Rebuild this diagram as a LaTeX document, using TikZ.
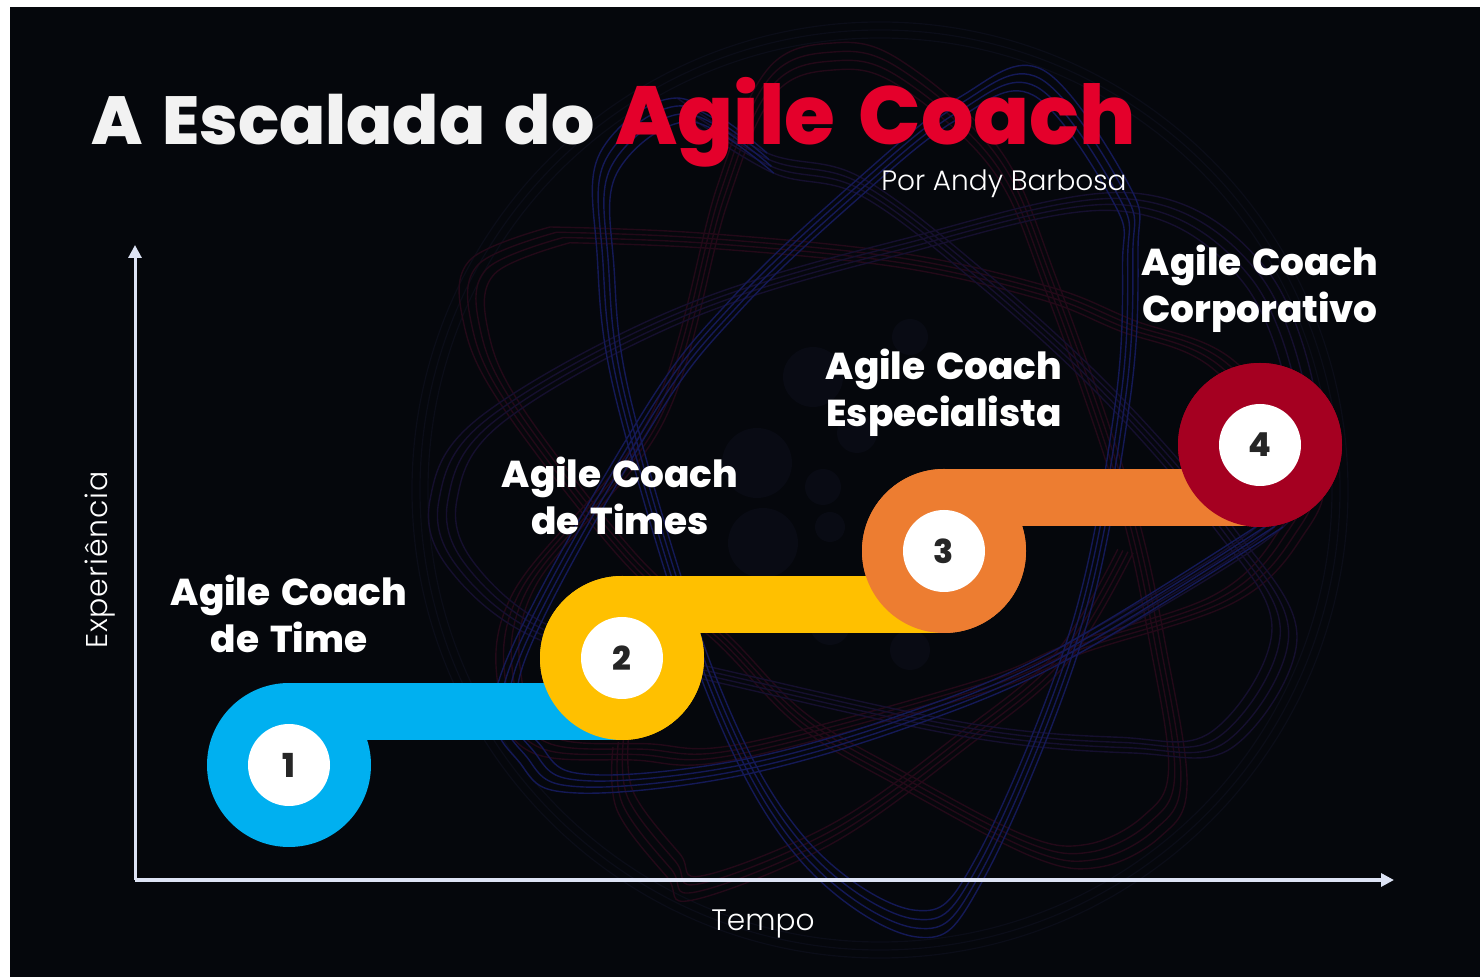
\documentclass[tikz,border=0pt]{standalone}
\usepackage{fontspec}
\setmainfont{Poppins}
\newfontfamily\heavy{Poppins ExtraBold}
\newfontfamily\heavytitle[WordSpace=1.5]{Poppins ExtraBold}
\newfontfamily\lightf{Poppins Light}
\newfontfamily\lightw[LetterSpace=3]{Poppins Light}
\usetikzlibrary{arrows.meta}
\definecolor{bg}{HTML}{05070C}
\definecolor{axisc}{HTML}{DDE3F5}
\definecolor{blueorb}{HTML}{141956}
\definecolor{dimorb}{HTML}{150F2E}
\definecolor{redorb}{HTML}{230918}
\definecolor{faintorb}{HTML}{0B0D18}
\definecolor{spot}{HTML}{090B14}
\definecolor{c1}{HTML}{00B0F0}
\definecolor{c2}{HTML}{FFC000}
\definecolor{c3}{HTML}{ED7D31}
\definecolor{c4}{HTML}{A50021}
\definecolor{titlered}{HTML}{E4002B}
\tikzset{
  ring/.style={circle,fill=#1,minimum size=82pt,inner sep=0pt,outer sep=0pt},
  hole/.style={circle,fill=white,minimum size=41pt,inner sep=0pt,outer sep=0pt,text=black!85,font=\heavy\fontsize{16.5}{16.5}\selectfont},
  ribbon/.style={line width=28.5pt,draw=#1},
  steplabel/.style={text=white,align=center,font=\heavy\fontsize{18.7}{23.3}\selectfont},
  axisline/.style={draw=axisc,-{Triangle[length=6.5pt,width=6.5pt]}},
  axislabel/.style={text=white!75,font=\lightf\fontsize{14.8}{15}\selectfont},
  orbit/.style={line width=0.7pt,line join=round},
  bundle/.style={smooth,tension=0.6}
}
\newcommand{\orbitbundle}[3]{% colour, closed flag style, points
  \foreach \s in {1,0.98,0.96,0.94}{
    \begin{scope}[shift={(880,490)},scale=\s,shift={(-880,-490)}]
      \draw[orbit,#1] plot[#2] coordinates {#3};
    \end{scope}
  }
}
\begin{document}
\begin{tikzpicture}[x=0.5pt,y=-0.5pt]
\useasboundingbox (0,0) rectangle (1480,977);
\fill[white] (0,0) rectangle (1480,977);
\fill[bg] (10,7) rectangle (1480,977);
% faint background
\begin{scope}
\clip (10,7) rectangle (1480,977);
\foreach \cx/\cy/\r in {813/377/30,757/463/35,823/487/18,830/527/15,910/337/18,857/433/20,763/543/35,830/625/20,910/650/20}{
  \fill[spot] (\cx,\cy) circle (\r);
}
\foreach \r in {468,460,452}{\draw[faintorb,line width=.6pt] (880,490) circle (\r);}
\orbitbundle{redorb}{bundle}{(550,227)(700,233)(900,253)(1050,287)(1133,320)(1233,360)(1320,470)(1300,540)(1233,603)(1083,653)(983,693)(733,760)(633,760)(533,753)(500,700)(513,593)(650,417)(717,187)(767,70)(833,43)(900,60)(1000,150)(1057,280)(1133,500)(1167,653)(1187,787)(1160,837)(1100,867)(1033,857)(900,787)(800,727)(717,643)(622,560)(500,403)(463,320)(470,260)(550,227)}
\orbitbundle{redorb}{bundle}{(613,747)(617,810)(667,877)(693,900)(833,843)(967,747)(1067,663)(1133,553)}
\orbitbundle{dimorb}{bundle}{(1067,660)(1283,527)(1320,430)(1267,270)(1133,193)(900,240)(673,310)(480,417)(430,500)(450,570)(540,640)(707,680)(967,737)(1133,753)(1233,747)(1297,637)(1233,527)(1117,393)(983,270)(860,177)(767,153)(677,98)}
\orbitbundle{blueorb}{bundle}{(767,153)(677,98)(600,153)(597,253)(617,403)(707,693)(800,860)(917,937)(983,880)(1083,637)(1130,400)(1138,250)(1130,187)(1043,70)(960,97)(860,177)(733,297)(640,417)(500,677)(523,767)(577,793)(733,777)(900,730)(1067,660)(1283,527)}
\end{scope}
% rings
\node[ring=c1] (r1) at (289,765) {};
\node[ring=c2] (r2) at (622,658) {};
\node[ring=c3] (r3) at (944,551) {};
\node[ring=c4] (r4) at (1260,445) {};
% ribbons
\draw[ribbon=c1] ([yshift=-14.25pt]r1.north) -- ([yshift=-14.25pt]r1.north -| r2);
\node[ring=c2] at (r2) {};
\draw[ribbon=c2] ([yshift=-14.25pt]r2.north) -- ([yshift=-14.25pt]r2.north -| r3);
\node[ring=c3] at (r3) {};
\draw[ribbon=c3] ([yshift=-14.25pt]r3.north) -- ([yshift=-14.25pt]r3.north -| r4);
\node[ring=c4] at (r4) {};
\node[hole] (h1) at (r1) {1};
\node[hole] (h2) at (r2) {2};
\node[hole] (h3) at (r3) {3};
\node[hole] (h4) at (r4) {4};
% labels
\node[steplabel] (l1) at (289,614) {Agile Coach\\de Time};
\node[steplabel] (l2) at (620,496) {Agile Coach\\de Times};
\node[steplabel] (l3) at (944,393) {Agile Coach\\Especialista};
\node[steplabel] (l4) at (1260,289) {Agile Coach\\Corporativo};
% title
\node[anchor=base west,inner sep=0pt,text=white!95!black,font=\heavytitle\fontsize{34}{36}\selectfont] (t1) at (91,145) {A Escalada do};
\node[anchor=base west,inner sep=0pt,text=titlered,font=\heavytitle\fontsize{41.2}{44}\selectfont] (t2) at (615,145) {Agile Coach};
\node[anchor=base east,inner sep=0pt,text=white!70,font=\lightf\fontsize{14}{14}\selectfont] (t3) at (1127,191) {Por Andy Barbosa};
% axes
\coordinate (o) at (135,880);
\coordinate (xe) at (1394,880);
\coordinate (ye) at (135,245);
\draw[axisline,line width=2pt] (o) -- (xe);
\draw[axisline,line width=1.5pt] (o) -- (ye);
\node[axislabel] (xl) at (763,924) {Tempo};
\node[axislabel,rotate=90,font=\lightw\fontsize{15}{15}\selectfont] (yl) at (100,560) {Experiência};
\end{tikzpicture}
\end{document}
